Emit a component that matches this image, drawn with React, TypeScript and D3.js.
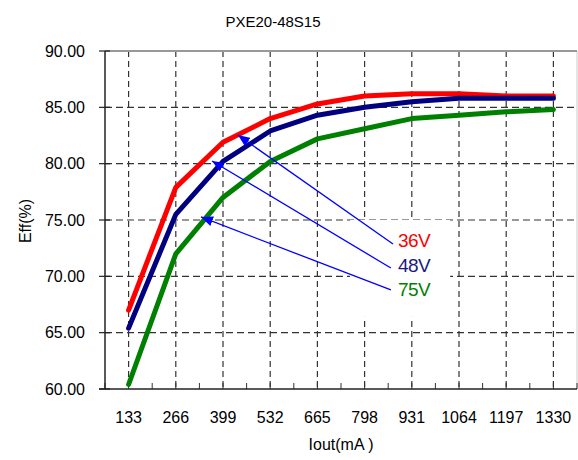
import React from "react";
import * as d3 from "d3";

const title = "PXE20-48S15";
const xTitle = "Iout(mA )";
const yTitle = "Eff(%)";
const iout = [133, 266, 399, 532, 665, 798, 931, 1064, 1197, 1330];
const yTicks = [60, 65, 70, 75, 80, 85, 90];
const eff36 = [67.0, 77.9, 81.9, 84.0, 85.3, 86.0, 86.2, 86.2, 86.0, 86.0];
const eff48 = [65.4, 75.5, 80.2, 82.9, 84.3, 85.0, 85.5, 85.8, 85.8, 85.8];
const eff75 = [60.4, 72.0, 77.0, 80.2, 82.2, 83.1, 84.0, 84.3, 84.6, 84.8];
const seriesNames = ["36V", "48V", "75V"];
const seriesColors = ["#ff0000", "#000080", "#008000"];
const labelColors = ["#ff0000", "#1a1a80", "#008000"];
// annotation arrows: [tipX(mA), tipY(%), tailX(mA), tailY(%)]
const arrowTips = [[441, 82.54], [368, 80.24], [337, 75.27]];
const arrowTails = [[878, 72.87], [872, 70.74], [872, 68.79]];
const labelPos = [[892, 72.6], [892, 70.38], [892, 68.25]];
const labelBox = [757, 1039, 75.0, 66.4];

const W = 578, H = 460;
const left = 105, right = 577, top = 51, bottom = 389;
const font = "'Liberation Sans', Arial, sans-serif";

export default function App() {
  const x = d3.scaleLinear().domain([66.5, 1396.5]).range([left, right]);
  const y = d3.scaleLinear().domain([60, 90]).range([bottom, top]);
  const line = d3.line<number>().x((_, i) => x(iout[i])).y((d) => y(d));
  const series = [eff36, eff48, eff75];
  const minor = d3.range(66.5, 1396.5 + 1, 66.5);

  return (
    <svg width={W} height={H} style={{ position: "absolute", left: 0, top: 0, background: "#fff" }}>
      <defs>
        <marker id="ah" viewBox="0 0 12 10" refX="12" refY="5" markerWidth="12" markerHeight="10" markerUnits="userSpaceOnUse" orient="auto">
          <path d="M0,0 L12,5 L0,10 z" fill="#0000ff" />
        </marker>
      </defs>
      <text x={273} y={27} textAnchor="middle" fontFamily={font} fontSize={15} fill="#000">{title}</text>
      {/* right border */}
      <line x1={right} x2={right} y1={top} y2={bottom} stroke="#ccc" strokeWidth={1} />
      {/* horizontal grid */}
      {yTicks.filter((t) => t > 60 && t < 90).map((t) => (
        <line key={"hg" + t} x1={left} x2={right} y1={y(t)} y2={y(t)} stroke="#333" strokeWidth={1.2} strokeDasharray="7,4" />
      ))}
      {/* vertical grid */}
      {iout.map((v) => (
        <line key={"vg" + v} x1={x(v)} x2={x(v)} y1={top} y2={bottom} stroke="#333" strokeWidth={1.2} strokeDasharray="6,4" />
      ))}
      {/* label box */}
      <rect x={x(labelBox[0])} y={y(labelBox[2])} width={x(labelBox[1]) - x(labelBox[0])} height={y(labelBox[3]) - y(labelBox[2])} fill="#fff" />
      {/* top border */}
      <line x1={left} x2={right} y1={top} y2={top} stroke="#999" strokeWidth={2} />
      {/* minor ticks bottom */}
      {minor.map((v) => (
        <line key={"mt" + v} x1={x(v)} x2={x(v)} y1={bottom} y2={bottom - 6} stroke="#333" strokeWidth={1} />
      ))}
      {/* y ticks */}
      {yTicks.map((t) => (
        <g key={"yt" + t}>
          <line x1={left - 6} x2={left + 5} y1={y(t)} y2={y(t)} stroke="#222" strokeWidth={1.2} />
          <text x={85} y={y(t)} dy="0.35em" textAnchor="end" fontFamily={font} fontSize={16} fill="#000">{t.toFixed(2)}</text>
        </g>
      ))}
      {/* axes */}
      <line x1={left} x2={left} y1={top} y2={bottom} stroke="#222" strokeWidth={1.5} />
      <line x1={left - 6} x2={right} y1={bottom} y2={bottom} stroke="#222" strokeWidth={1.5} />
      {/* x tick labels */}
      {iout.map((v) => (
        <text key={"xl" + v} x={x(v)} y={423} textAnchor="middle" fontFamily={font} fontSize={16} fill="#000">{v}</text>
      ))}
      <text x={341} y={450} textAnchor="middle" fontFamily={font} fontSize={16} fill="#000">{xTitle}</text>
      <text transform={`translate(31,221) rotate(-90)`} textAnchor="middle" fontFamily={font} fontSize={16} fill="#000">{yTitle}</text>
      {/* series */}
      {series.map((s, i) => (
        <path key={"s" + i} d={line(s) || ""} fill="none" stroke={seriesColors[i]} strokeWidth={5} strokeLinejoin="round" strokeLinecap="round" />
      ))}
      {/* arrows */}
      {arrowTips.map((tp, i) => (
        <line key={"ar" + i} x1={x(arrowTails[i][0])} y1={y(arrowTails[i][1])} x2={x(tp[0])} y2={y(tp[1])} stroke="#0000ff" strokeWidth={1.3} markerEnd="url(#ah)" />
      ))}
      {seriesNames.map((n, i) => (
        <text key={"lb" + i} x={x(labelPos[i][0])} y={y(labelPos[i][1])} fontFamily={font} fontSize={19} fill={labelColors[i]} letterSpacing={-0.5}>{n}</text>
      ))}
    </svg>
  );
}
